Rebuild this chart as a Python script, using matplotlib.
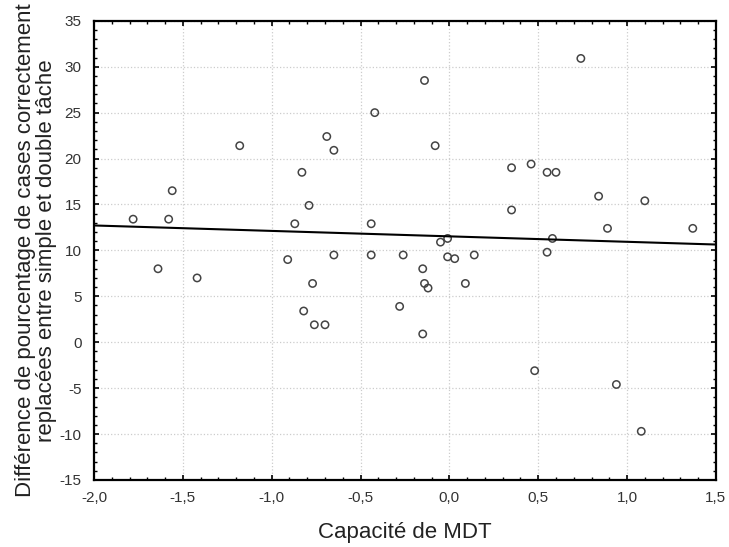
import numpy as np
import matplotlib.pyplot as plt
from matplotlib.ticker import MultipleLocator, FuncFormatter

plt.rcParams['font.family'] = ['Liberation Sans', 'DejaVu Sans']
plt.rcParams['axes.unicode_minus'] = False

# Capacité de MDT (x) and difference scores (y)
mdt = [-1.78, -1.58, -1.56, -1.64, -1.42, -1.18, -0.91, -0.87, -0.83, -0.82,
       -0.79, -0.77, -0.76, -0.70, -0.69, -0.65, -0.65, -0.44, -0.44, -0.42,
       -0.28, -0.26, -0.14, -0.15, -0.14, -0.12, -0.15, -0.08, -0.05, -0.01,
       -0.01, 0.03, 0.09, 0.14, 0.35, 0.35, 0.46, 0.48, 0.55, 0.55,
       0.58, 0.60, 0.74, 0.84, 0.89, 0.94, 1.10, 1.08, 1.37]
diff = [13.4, 13.4, 16.5, 8.0, 7.0, 21.4, 9.0, 12.9, 18.5, 3.4,
        14.9, 6.4, 1.9, 1.9, 22.4, 20.9, 9.5, 12.9, 9.5, 25.0,
        3.9, 9.5, 28.5, 8.0, 6.4, 5.9, 0.9, 21.4, 10.9, 11.3,
        9.3, 9.1, 6.4, 9.5, 19.0, 14.4, 19.4, -3.1, 18.5, 9.8,
        11.3, 18.5, 30.9, 15.9, 12.4, -4.6, 15.4, -9.7, 12.4]

xlim = (-2.0, 1.5)
ylim = (-15, 35)

fig = plt.figure(figsize=(7.29, 5.47), dpi=100)
ax = fig.add_axes([0.129, 0.1225, 0.853, 0.8395])

ax.scatter(mdt, diff, s=28, facecolors='none', edgecolors='#444444',
           linewidths=1.1, zorder=3)

# linear fit
slope, intercept = np.polyfit(mdt, diff, 1)
xs = np.array(xlim)
ax.plot(xs, intercept + slope * xs, color='black', lw=1.5, zorder=4)

ax.set_xlim(xlim)
ax.set_ylim(ylim)
ax.xaxis.set_major_locator(MultipleLocator(0.5))
ax.xaxis.set_minor_locator(MultipleLocator(0.1))
ax.yaxis.set_major_locator(MultipleLocator(5))
ax.yaxis.set_minor_locator(MultipleLocator(1))
ax.xaxis.set_major_formatter(FuncFormatter(lambda v, p: f"{v:.1f}".replace('.', ',')))

ax.grid(True, which='major', color='#cccccc', linestyle=':', linewidth=0.9)
ax.tick_params(which='both', direction='in', top=True, right=True,
               labelsize=11, labelcolor='#333333')
ax.tick_params(which='major', length=3.5, width=1.2)
ax.tick_params(which='minor', length=2, width=1)
ax.tick_params(axis='x', which='major', pad=8)
ax.tick_params(axis='y', which='major', pad=9)
for sp in ax.spines.values():
    sp.set_linewidth(1.6)

ax.set_xlabel("Capacité de MDT", fontsize=16, color='#222222', labelpad=12)
ax.set_ylabel("Différence de pourcentage de cases correctement\nreplacées entre simple et double tâche",
              fontsize=16, color='#222222', labelpad=2, linespacing=1.0)

fig.savefig('out.png', dpi=100)
